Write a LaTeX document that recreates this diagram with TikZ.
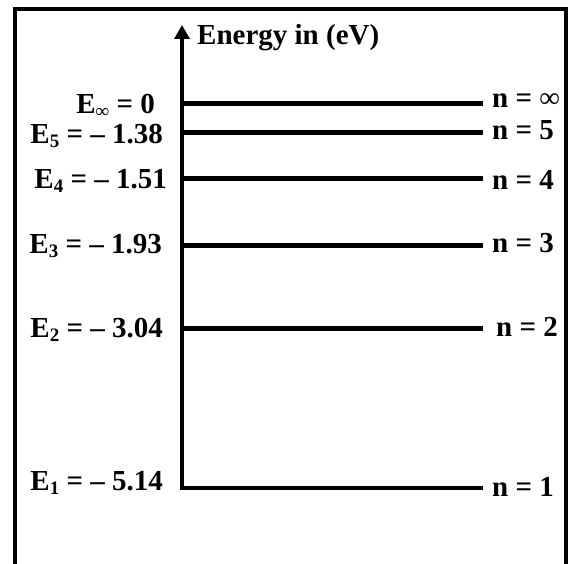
\documentclass[tikz,border=0pt]{standalone}
\usepackage{fontspec}
\setmainfont{Liberation Serif}
\usetikzlibrary{arrows.meta}

\newcommand{\lsub}[1]{\raisebox{-0.12em}{\fontsize{19}{19}\selectfont #1}}

\begin{document}
\begin{tikzpicture}[
  x=1pt, y=-1pt,
  font=\fontsize{29}{33}\selectfont\bfseries,
  % energy level line
  lvl/.style={line width=5pt},
  % vertical energy axis
  axis/.style={line width=4.5pt, -{Triangle[width=15pt,length=14pt]}},
  % left energy label and right quantum-number label
  elab/.style={anchor=east, inner sep=0pt},
  nlab/.style={anchor=west, inner sep=0pt},
  frame/.style={line width=3.5pt}
]
\useasboundingbox (0,0) rectangle (573,564);

% ── Frame (open at the bottom) ─────────────────────────────────────────────
\coordinate (fbl) at (15,566);
\coordinate (fbr) at (566,566);
\draw[frame] (fbl) |- (566,9) -- (fbr);

% ── Axis and ground level ─────────────────────────────────────────────────
\coordinate (a1)  at (182,488);
\coordinate (b1)  at (483,488);
\coordinate (top) at (182,25);
\draw[axis] (b1) -- (a1) -- (top);
\node[anchor=west, inner sep=0pt] (title) at (197,38) {Energy in (eV)};

% ── Excited levels ────────────────────────────────────────────────────────
\coordinate (ainf) at (182,104);  \coordinate (binf) at (483,104);
\coordinate (a5)   at (182,133);  \coordinate (b5)   at (483,133);
\coordinate (a4)   at (182,179);  \coordinate (b4)   at (483,179);
\coordinate (a3)   at (182,246);  \coordinate (b3)   at (483,246);
\coordinate (a2)   at (182,328);  \coordinate (b2)   at (483,328);

\draw[lvl] (ainf) -- (binf);
\draw[lvl] (a5)   -- (b5);
\draw[lvl] (a4)   -- (b4);
\draw[lvl] (a3)   -- (b3);
\draw[lvl] (a2)   -- (b2);

% ── Energy labels (left) ──────────────────────────────────────────────────
\node[elab] (einf) at (155,106) {E\lsub{∞} = 0};
\node[elab] (e5)   at (163,136) {E\lsub{5} = – 1.38};
\node[elab] (e4)   at (167,181) {E\lsub{4} = – 1.51};
\node[elab] (e3)   at (162,246) {E\lsub{3} = – 1.93};
\node[elab] (e2)   at (163,330) {E\lsub{2} = – 3.04};
\node[elab] (e1)   at (163,483) {E\lsub{1} = – 5.14};

% ── Quantum numbers (right) ───────────────────────────────────────────────
\node[nlab] (ninf) at (492,101) {n = {\mdseries ∞}};
\node[nlab] (n5)   at (492,130) {n = 5};
\node[nlab] (n4)   at (492,180) {n = 4};
\node[nlab] (n3)   at (492,243) {n = 3};
\node[nlab] (n2)   at (496,327) {n = 2};
\node[nlab] (n1)   at (492,487) {n = 1};

\end{tikzpicture}
\end{document}
